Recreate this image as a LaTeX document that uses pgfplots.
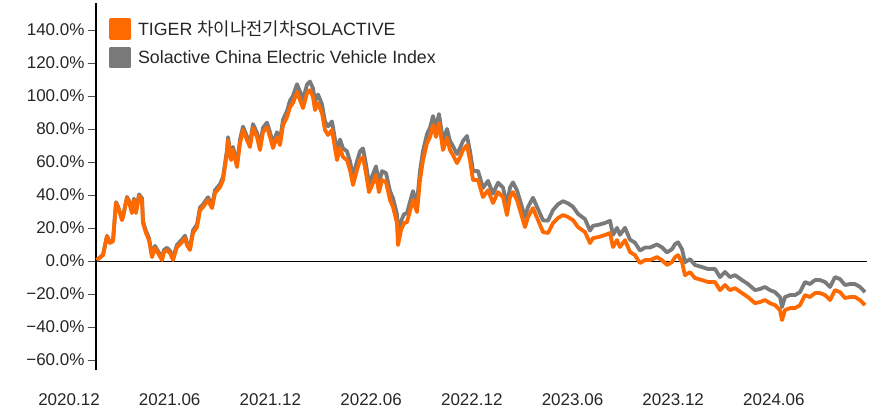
\documentclass[border=0pt]{standalone}
\usepackage{pgfplots}
\usepackage{pgfplotstable}
\pgfplotsset{compat=1.18}
\usepackage{fontspec}
\setmainfont{Liberation Sans}
\newfontfamily\kr{Noto Sans CJK KR}
\definecolor{tigor}{HTML}{FF6A00}
\definecolor{idxgray}{HTML}{7A7A7A}

\pgfplotstableread{
x tiger index
0.7 0.6 0.6
7 3.6 3.8
11 15.0 15.3
14 11.0 11.3
17 12.0 12.4
20 35.2 35.7
22 32.7 33.2
26 24.8 25.4
27 26.7 27.3
31 38.2 38.9
33 35.8 36.6
36 29.1 30.0
38 37.0 37.9
40 29.1 30.1
43 39.4 40.4
46 37.0 38.1
47 23.0 24.1
50 17.0 18.2
53 12.7 13.9
56 2.4 3.6
59 7.9 9.2
62 4.8 6.1
66 0.6 1.9
68 5.5 6.8
71 6.7 8.1
74 4.8 6.2
77 0.6 2.0
81 8.5 9.9
86 11.5 13.0
89 13.9 15.4
91 9.7 11.2
94 6.7 8.2
97 17.0 18.6
101 20.6 22.2
104 30.9 32.5
107 32.7 34.3
112 37.0 38.7
116 32.1 33.8
119 41.2 42.9
124 44.8 46.6
127 49.1 50.9
131 65.5 67.3
132 73.3 75.1
135 61.2 63.1
137 67.3 69.2
141 57.0 59.0
144 71.5 73.6
147 79.4 81.5
151 73.3 75.5
154 69.1 71.4
157 80.6 83.0
161 75.2 77.7
164 67.3 69.8
167 78.2 80.8
171 81.2 83.9
174 75.2 78.0
177 68.5 71.3
181 75.2 78.1
184 70.3 73.3
187 82.4 85.6
191 87.3 91.0
194 93.3 97.3
197 95.8 100.1
201 102.4 107.2
204 97.6 102.7
207 92.7 97.9
211 101.8 107.0
214 103.6 108.8
217 99.4 104.6
219 91.5 96.7
222 95.8 101.0
226 89.7 94.9
229 79.4 84.6
232 76.4 81.6
236 79.4 84.6
239 68.5 73.7
241 61.2 66.4
244 68.5 73.7
247 63.0 68.3
251 61.2 66.5
254 55.2 60.5
257 46.1 51.4
261 55.2 60.5
264 61.2 66.5
267 63.0 68.3
270 53.3 58.6
273 41.8 47.1
277 47.3 52.6
280 52.1 57.4
283 41.8 47.2
286 49.1 54.5
290 47.9 53.3
294 37.0 42.4
297 32.7 38.1
301 23.0 28.4
302 9.7 15.1
305 18.8 24.2
308 23.0 28.4
311 23.6 29.0
315 32.7 38.1
317 37.0 42.4
321 29.7 35.2
324 49.1 54.6
327 61.2 66.7
331 71.5 77.0
334 75.2 80.7
337 82.4 87.9
340 75.2 80.7
343 83.6 89.1
347 67.3 72.8
351 74.6 80.1
354 67.3 72.8
357 64.2 69.7
361 59.4 64.9
364 63.0 68.5
367 67.3 72.8
371 70.3 75.8
374 61.2 66.7
377 49.1 54.6
382 49.1 54.6
387 38.8 44.3
392 43.0 48.6
397 35.2 40.8
402 41.8 47.5
407 38.8 44.6
411 27.9 33.7
414 38.8 44.6
417 41.8 47.7
421 37.0 42.9
424 30.9 36.9
429 20.6 26.6
432 26.7 32.8
437 32.1 38.4
442 24.8 31.5
447 17.6 24.7
452 17.0 24.5
457 23.0 30.9
462 26.1 34.4
467 27.9 36.3
472 26.7 35.0
477 24.8 32.9
482 20.6 28.6
489 17.6 25.4
494 10.9 18.5
497 13.9 21.4
502 14.5 21.9
509 15.8 23.1
514 17.0 24.4
517 8.5 15.9
521 12.7 20.1
524 8.5 15.9
529 12.7 20.2
534 5.5 13.0
539 3.6 11.1
544 -1.2 6.4
549 0.6 8.2
554 0.6 8.2
561 2.4 10.1
566 0.6 8.3
571 -2.4 5.3
576 -0.6 7.2
579 2.4 10.2
582 3.6 11.4
586 -0.6 7.2
589 -8.5 -0.7
594 -6.7 1.2
599 -10.3 -2.4
606 -11.5 -3.6
612 -12.7 -4.8
619 -12.7 -4.8
624 -17.6 -9.7
629 -14.5 -6.6
634 -17.6 -9.7
639 -16.4 -8.5
646 -19.4 -11.5
652 -21.8 -13.9
659 -25.5 -17.6
664 -24.8 -16.9
669 -23.6 -15.7
674 -25.5 -17.6
679 -26.7 -18.8
684 -29.7 -21.8
686 -35.8 -27.9
689 -29.7 -21.8
694 -28.5 -20.6
699 -28.5 -20.6
704 -26.7 -18.8
709 -20.6 -12.7
714 -21.8 -13.9
719 -19.4 -11.5
724 -19.4 -11.5
729 -20.6 -12.7
734 -23.6 -15.7
739 -17.6 -9.7
744 -18.8 -10.9
749 -22.4 -14.5
754 -21.8 -13.9
759 -21.8 -13.9
764 -23.6 -15.7
769 -26.7 -18.8
}\data

\begin{document}
\begin{tikzpicture}
\useasboundingbox (-96pt,-39pt) rectangle (780pt,370pt);
\begin{axis}[
  scale only axis, width=771pt, height=367pt,
  xmin=0, xmax=771, ymin=-66, ymax=156.4,
  axis y line=left, axis x line=bottom,
  x axis line style={draw=none},
  y axis line style={-, black, line width=1.6pt},
  xtick style={draw=none},
  ytick style={draw=black!70, line width=1pt},
  tick align=outside, major tick length=8pt,
  ytick={-60,-40,-20,0,20,40,60,80,100,120,140},
  yticklabels={−60.0\%,−40.0\%,−20.0\%,0.0\%,20.0\%,40.0\%,60.0\%,80.0\%,100.0\%,120.0\%,140.0\%},
  xtick={3,103.7,204.4,305.1,405.8,506.5,607.2,707.9},
  xticklabels={2020.12,2021.06,2021.12,2022.06,2022.12,2023.06,2023.12,2024.06},
  xticklabel style={xshift=-30pt, yshift=-12pt},
  tick label style={font=\fontsize{17}{20}\selectfont, text=black!85},
  reverse legend,
  legend style={at={(0.0169,0.960)}, anchor=north west, draw=none, fill=none,
    font=\fontsize{17.8}{20}\selectfont, row sep=7pt, inner sep=0pt,
    cells={anchor=west}, text=black!85},
]
\addplot[black, line width=0.8pt, forget plot] coordinates {(0,0) (771,0)};
\addplot[idxgray, line width=3.8pt, line join=round,
  legend image code/.code={\fill[idxgray] (0pt,-9pt) rectangle (18pt,9pt); \path (23pt,0pt);}]
  table[x=x, y=index]{\data};
\addlegendentry{Solactive China Electric Vehicle Index}
\addplot[tigor, line width=3.8pt, line join=round,
  legend image code/.code={\fill[tigor] (0pt,-9pt) rectangle (18pt,9pt); \path (23pt,0pt);}]
  table[x=x, y=tiger]{\data};
\addlegendentry{TIGER {\kr 차이나전기차}SOLACTIVE}
\end{axis}
\end{tikzpicture}
\end{document}
